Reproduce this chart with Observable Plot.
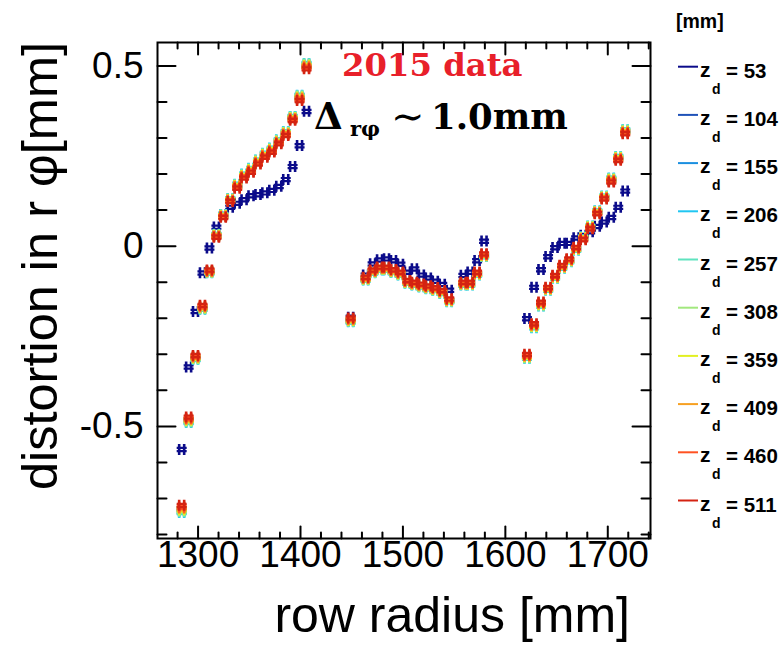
<!DOCTYPE html>
<html><head><meta charset="utf-8">
<script src="https://cdn.jsdelivr.net/npm/d3@7"></script>
<script src="https://cdn.jsdelivr.net/npm/@observablehq/plot@0.6"></script>
<style>body{margin:0;background:#fff}#chart{width:781px;height:646px}</style>
</head><body><div id="chart"></div>
<script>
const rowRadius = [1284.0,1290.8,1297.5,1304.3,1311.1,1317.9,1324.6,1331.4,1338.2,1344.9,1351.7,1358.5,1365.2,1372.0,1378.8,1385.6,1392.3,1399.1,1405.9,
  1449.0,1463.6,1470.4,1477.2,1484.0,1490.8,1497.6,1504.4,1511.2,1518.0,1524.8,1531.6,1538.4,1545.2,1559.0,1565.6,1572.4,1579.2,
  1621.1,1628.0,1634.8,1641.7,1648.5,1655.4,1662.3,1669.1,1676.0,1682.8,1689.7,1696.5,1703.4,1710.2,1717.0];
const zValues = [53,104,155,206,257,308,359,409,460,511];
const zColors = ["#0b0b8a","#1f52b8","#1a8fe0","#20c6f2","#5fe3bf","#a2e87e","#e2f022","#f7a021","#ff5222","#d42312"];
const dist_z53 = [-0.564,-0.335,-0.181,-0.074,-0.005,0.053,0.088,0.108,0.119,0.129,0.140,0.143,0.148,0.155,0.166,0.185,0.221,0.279,0.374,
  -0.197,-0.080,-0.049,-0.038,-0.035,-0.040,-0.050,-0.072,-0.063,-0.080,-0.088,-0.097,-0.106,-0.122,-0.081,-0.072,-0.040,0.014,
  -0.201,-0.114,-0.065,-0.029,-0.004,0.008,0.008,0.023,0.030,0.040,0.055,0.067,0.080,0.108,0.153];
const dist_z104 = [-0.729,-0.482,-0.309,-0.170,-0.070,0.029,0.084,0.128,0.167,0.195,0.211,0.234,0.253,0.267,0.290,0.313,0.355,0.412,0.500,
  -0.205,-0.090,-0.070,-0.062,-0.062,-0.069,-0.076,-0.099,-0.104,-0.109,-0.114,-0.119,-0.127,-0.150,-0.104,-0.104,-0.076,-0.025,
  -0.306,-0.221,-0.161,-0.118,-0.085,-0.057,-0.039,-0.007,0.022,0.052,0.094,0.135,0.184,0.244,0.318];
const dist_z155 = [-0.735,-0.486,-0.312,-0.173,-0.072,0.031,0.086,0.130,0.170,0.198,0.214,0.237,0.256,0.270,0.293,0.316,0.358,0.416,0.504,
  -0.208,-0.092,-0.072,-0.064,-0.064,-0.071,-0.078,-0.101,-0.106,-0.111,-0.116,-0.121,-0.129,-0.152,-0.106,-0.106,-0.078,-0.027,
  -0.309,-0.224,-0.164,-0.120,-0.087,-0.059,-0.041,-0.009,0.024,0.054,0.096,0.137,0.187,0.247,0.321];
const dist_z206 = [-0.739,-0.489,-0.314,-0.175,-0.074,0.033,0.088,0.132,0.172,0.200,0.216,0.239,0.258,0.272,0.295,0.318,0.360,0.419,0.507,
  -0.210,-0.094,-0.074,-0.066,-0.066,-0.073,-0.080,-0.103,-0.108,-0.113,-0.118,-0.123,-0.131,-0.154,-0.108,-0.108,-0.080,-0.029,
  -0.311,-0.226,-0.166,-0.122,-0.089,-0.061,-0.043,-0.011,0.026,0.056,0.098,0.139,0.189,0.249,0.323];
const dist_z257 = [-0.737,-0.488,-0.313,-0.174,-0.073,0.032,0.087,0.131,0.171,0.199,0.215,0.238,0.257,0.271,0.294,0.317,0.359,0.418,0.506,
  -0.209,-0.093,-0.073,-0.065,-0.065,-0.072,-0.079,-0.102,-0.107,-0.112,-0.117,-0.122,-0.130,-0.153,-0.107,-0.107,-0.079,-0.028,
  -0.310,-0.225,-0.165,-0.121,-0.088,-0.060,-0.042,-0.010,0.025,0.055,0.097,0.138,0.188,0.248,0.322];
const dist_z308 = [-0.734,-0.485,-0.311,-0.172,-0.072,0.031,0.086,0.130,0.169,0.197,0.213,0.236,0.255,0.269,0.292,0.315,0.357,0.415,0.503,
  -0.207,-0.092,-0.072,-0.064,-0.064,-0.071,-0.078,-0.101,-0.106,-0.111,-0.116,-0.121,-0.129,-0.152,-0.106,-0.106,-0.078,-0.027,
  -0.308,-0.223,-0.163,-0.120,-0.087,-0.059,-0.041,-0.009,0.024,0.054,0.096,0.137,0.186,0.246,0.320];
const dist_z359 = [-0.731,-0.483,-0.310,-0.171,-0.071,0.030,0.085,0.129,0.168,0.196,0.212,0.235,0.254,0.268,0.291,0.314,0.356,0.413,0.501,
  -0.206,-0.091,-0.071,-0.063,-0.063,-0.070,-0.077,-0.100,-0.105,-0.110,-0.115,-0.120,-0.128,-0.151,-0.105,-0.105,-0.077,-0.026,
  -0.307,-0.222,-0.162,-0.119,-0.086,-0.058,-0.040,-0.008,0.023,0.053,0.095,0.136,0.185,0.245,0.319];
const dist_z409 = [-0.728,-0.481,-0.308,-0.169,-0.070,0.029,0.084,0.128,0.166,0.194,0.210,0.233,0.252,0.266,0.289,0.312,0.354,0.411,0.499,
  -0.204,-0.090,-0.070,-0.062,-0.062,-0.069,-0.076,-0.099,-0.104,-0.109,-0.114,-0.119,-0.127,-0.150,-0.104,-0.104,-0.076,-0.025,
  -0.305,-0.220,-0.160,-0.118,-0.085,-0.057,-0.039,-0.007,0.022,0.052,0.094,0.135,0.183,0.243,0.317];
const dist_z460 = [-0.724,-0.478,-0.306,-0.167,-0.068,0.027,0.082,0.126,0.164,0.192,0.208,0.231,0.250,0.264,0.287,0.310,0.352,0.408,0.496,
  -0.202,-0.088,-0.068,-0.060,-0.060,-0.067,-0.074,-0.097,-0.102,-0.107,-0.112,-0.117,-0.125,-0.148,-0.102,-0.102,-0.074,-0.023,
  -0.303,-0.218,-0.158,-0.116,-0.083,-0.055,-0.037,-0.005,0.020,0.050,0.092,0.133,0.181,0.241,0.315];
const dist_z511 = [-0.719,-0.474,-0.303,-0.164,-0.066,0.025,0.080,0.124,0.161,0.189,0.205,0.228,0.247,0.261,0.284,0.307,0.349,0.404,0.492,
  -0.199,-0.086,-0.066,-0.058,-0.058,-0.065,-0.072,-0.095,-0.100,-0.105,-0.110,-0.115,-0.123,-0.146,-0.100,-0.100,-0.072,-0.021,
  -0.300,-0.215,-0.155,-0.114,-0.081,-0.053,-0.035,-0.003,0.018,0.048,0.090,0.131,0.178,0.238,0.312];

const xMajorTicks = [1300,1400,1500,1600,1700];
const xMinorTicks = [1280,1320,1340,1360,1380,1420,1440,1460,1480,1520,1540,1560,1580,1620,1640,1660,1680,1720,1740];
const yMajorTicks = [-0.5,0,0.5];
const yTickLabels = ["-0.5","0","0.5"];
const yMinorTicks = [-0.8,-0.7,-0.6,-0.4,-0.3,-0.2,-0.1,0.1,0.2,0.3,0.4];
const xTitle = "row radius [mm]";
const yTitle = "distortion in r \u03c6[mm]";
const legendUnit = "[mm]";

const series = [dist_z53,dist_z104,dist_z155,dist_z206,dist_z257,dist_z308,dist_z359,dist_z409,dist_z460,dist_z511];
const points = [];
zValues.forEach((z,k) => series[k].forEach((v,i) => points.push({r: rowRadius[i], d: v, z})));

const hashMarker = {draw(ctx) {
  ctx.rect(-3.8,-5.5,2.6,11); ctx.rect(1.2,-5.5,2.6,11);
  ctx.rect(-5,-2.6,10,2.2); ctx.rect(-5,0.6,10,2.2);
}};
const tickLine = {draw(ctx, l) { ctx.moveTo(0,0); ctx.lineTo(0,-l); }};
const tk = (data, ch, anchor, rot, len) => Plot.vector(data, {[ch]: d => d, frameAnchor: anchor, rotate: rot, length: len, anchor: "start", shape: tickLine, stroke: "black", strokeWidth: 2});

const plot = Plot.plot({
  width: 781, height: 646,
  marginLeft: 157, marginRight: 131, marginTop: 42, marginBottom: 108,
  x: {domain: [1260.4, 1741.7], axis: null},
  y: {domain: [-0.811, 0.565], axis: null},
  color: {type: "ordinal", domain: zValues, range: zColors},
  style: {fontFamily: "Liberation Sans, Arial, sans-serif", background: "#fff"},
  marks: [
    Plot.dot(points, {x: "r", y: "d", fill: "z", symbol: hashMarker, r: 4}),
    tk(xMajorTicks, "x", "bottom", 0, 12), tk(xMinorTicks, "x", "bottom", 0, 6),
    tk(xMajorTicks, "x", "top", 180, 12), tk(xMinorTicks, "x", "top", 180, 6),
    tk(yMajorTicks, "y", "left", 90, 18), tk(yMinorTicks, "y", "left", 90, 9),
    tk(yMajorTicks, "y", "right", 270, 18), tk(yMinorTicks, "y", "right", 270, 9),
    Plot.frame({stroke: "black", strokeWidth: 2}),
    Plot.text(xMajorTicks, {x: d => d, frameAnchor: "bottom", dy: 28, text: d => String(d), fontSize: 37, fill: "black"}),
    Plot.text(yMajorTicks, {y: d => d, frameAnchor: "left", dx: -14, textAnchor: "end", text: (d, i) => yTickLabels[i], fontSize: 37, fill: "black"})
  ]
});
document.getElementById("chart").appendChild(plot);

const svg = d3.select(plot);
const SANS = "Liberation Sans, Arial, sans-serif";
svg.append("text").attr("x", 630).attr("y", 632).attr("text-anchor", "end")
  .attr("font-family", SANS).attr("font-size", 50).attr("fill", "black").text(xTitle);
svg.append("text").attr("transform", "translate(57,42) rotate(-90)").attr("text-anchor", "end")
  .attr("font-family", SANS).attr("font-size", 50.5).attr("fill", "black").text(yTitle);

svg.append("text").attr("x", 342).attr("y", 76).attr("text-anchor", "start").attr("font-family", "DejaVu Serif, serif").attr("font-weight", "bold")
  .attr("font-size", 32.3).attr("fill", "#e8202a").text("2015 data");
const t2 = svg.append("text").attr("text-anchor", "start").attr("font-family", "DejaVu Serif, serif").attr("font-weight", "bold").attr("fill", "black");
t2.append("tspan").attr("x", 314).attr("y", 129).attr("font-size", 37).text("\u0394");
t2.append("tspan").attr("x", 350).attr("y", 136).attr("font-size", 21).text("r\u03c6");
t2.append("tspan").attr("x", 391).attr("y", 130).attr("font-size", 40).attr("font-weight", "normal").text("\u223c");
t2.append("tspan").attr("x", 431).attr("y", 129).attr("font-size", 35.5).text("1.0mm");

const lg = svg.append("g").attr("text-anchor", "start").attr("font-family", SANS).attr("font-weight", "bold").attr("fill", "black");
lg.append("text").attr("x", 676).attr("y", 28).attr("font-size", 19.5).text(legendUnit);
zValues.forEach((z, k) => {
  const y0 = 66.7 + k * 48.2;
  lg.append("line").attr("x1", 678).attr("x2", 698).attr("y1", y0).attr("y2", y0).attr("stroke", zColors[k]).attr("stroke-width", 2);
  lg.append("text").attr("x", 700).attr("y", y0 + 10).attr("font-size", 21).text("z");
  lg.append("text").attr("x", 712).attr("y", y0 + 27).attr("font-size", 14).text("d");
  lg.append("text").attr("x", 726).attr("y", y0 + 11).attr("font-size", 20.5).text("= " + z);
});
</script></body></html>
